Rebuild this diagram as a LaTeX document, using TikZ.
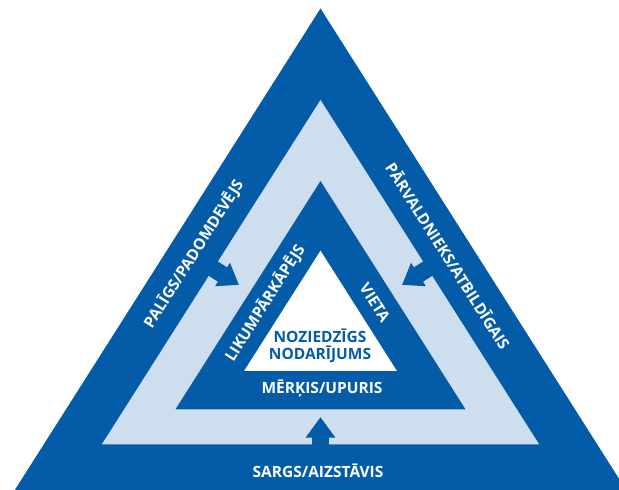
\documentclass[tikz,border=0pt]{standalone}
\usepackage{fontspec}
\setmainfont{Open Sans}
\definecolor{crimeblue}{RGB}{4,92,168}
\definecolor{crimelight}{RGB}{205,223,238}
\tikzset{
  darkband/.style={fill=crimeblue},
  lightband/.style={fill=crimelight},
  bandtext/.style={text=white, inner sep=0pt, font=\bfseries\fontsize{15.5}{17}\selectfont},
  coretext/.style={text=crimeblue, inner sep=0pt, align=center, font=\bfseries\fontsize{15.5}{17}\selectfont}
}
\begin{document}
\begin{tikzpicture}[x=1pt,y=1pt]
        \clip (0,0) rectangle (619,490);

        % Outer band
        \fill[darkband] (14.8,0) -- (320.5,481.5) -- (626.2,0) -- cycle;

        % Light band
        \fill[lightband] (101.8,45.5) -- (320.5,390) -- (539.2,45.5) -- cycle;

        % Inner band
        \fill[darkband] (175.5,80.7) -- (320.5,309) -- (465.5,80.7) -- cycle;

        % Core
        \fill[white] (244.1,119) -- (320.5,239.3) -- (396.9,119) -- cycle;

        % Arrows
        \begin{scope}[shift={(213.4,221.3)}, rotate=-32.4]
            \fill[darkband] (-4,-8.5) -- (10.8,-8.5) -- (10.8,-13.9) -- (30.1,0) -- (10.8,13.9) -- (10.8,8.5) -- (-4,8.5) -- cycle;
        \end{scope}
        \begin{scope}[shift={(427.6,221.3)}, rotate=212.4]
            \fill[darkband] (-4,-8.5) -- (10.8,-8.5) -- (10.8,-13.9) -- (30.1,0) -- (10.8,13.9) -- (10.8,8.5) -- (-4,8.5) -- cycle;
        \end{scope}
        \begin{scope}[shift={(320.5,45.5)}, rotate=90]
            \fill[darkband] (-4,-8.3) -- (6.8,-8.3) -- (6.8,-15) -- (27.2,0) -- (6.8,15) -- (6.8,8.3) -- (-4,8.3) -- cycle;
        \end{scope}

        % Outer labels
        \node[bandtext, rotate=57.6] (helper) at (193.7,236) {PALĪGS/PADOMDEVĒJS};
        \node[bandtext, rotate=-57.6] (manager) at (448.5,234) {PĀRVALDNIEKS/ATBILDĪGAIS};
        \node[bandtext] (guardian) at (318,19.3) {SARGS/AIZSTĀVIS};

        % Inner labels
        \node[bandtext, rotate=57.6] (offender) at (265,187) {LIKUMPĀRKĀPĒJS};
        \node[bandtext, rotate=-57.6] (place) at (375,187.5) {VIETA};
        \node[bandtext] (target) at (322,102) {MĒRĶIS/UPURIS};

        % Crime
        \node[coretext] (crime) at (320,144.5) {NOZIEDZĪGS\\NODARĪJUMS};
    \end{tikzpicture}
\end{document}
